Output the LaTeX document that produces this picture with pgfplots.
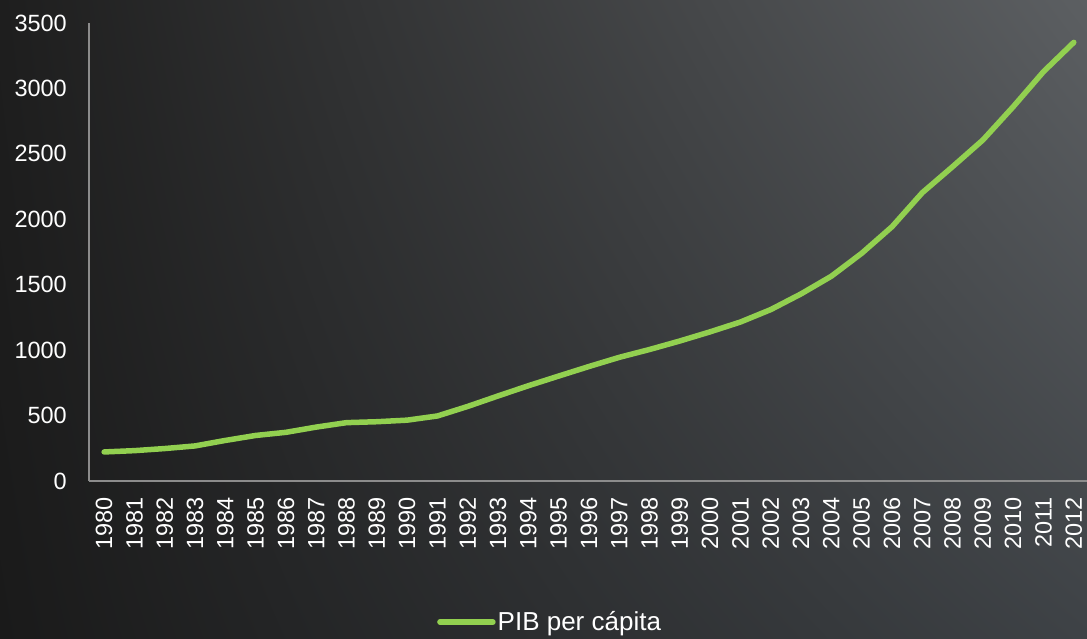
\documentclass[border=0pt]{standalone}
\usepackage{pgfplots}
\pgfplotsset{compat=1.18}
\usetikzlibrary{shadings}
\usepackage{fontspec}
\setmainfont{Liberation Sans}
\definecolor{pibgreen}{HTML}{92D050}
\definecolor{bgTL}{HTML}{1E1E1E}
\definecolor{bgTR}{HTML}{5C5F62}
\definecolor{bgBL}{HTML}{1A1A1A}
\definecolor{bgBR}{HTML}{3E4246}
\definecolor{axisgray}{HTML}{8C8C8C}
\pgfplotstableread{
year value
1980 222
1981 232
1982 248
1983 268
1984 310
1985 348
1986 372
1987 412
1988 446
1989 453
1990 465
1991 497
1992 570
1993 650
1994 728
1995 802
1996 875
1997 945
1998 1005
1999 1070
2000 1140
2001 1215
2002 1310
2003 1430
2004 1565
2005 1740
2006 1943
2007 2203
2008 2402
2009 2606
2010 2860
2011 3128
2012 3352
}\pibtable
\begin{document}
\begin{tikzpicture}
\shade[upper left=bgTL, upper right=bgTR, lower left=bgBL, lower right=bgBR] (0,0) rectangle (1087bp,639bp);
\useasboundingbox (0,0) rectangle (1087bp,639bp);
\begin{axis}[
  at={(89bp,158bp)}, anchor=south west,
  scale only axis, width=1000bp, height=458bp,
  xmin=1979.5, xmax=2012.5, ymin=0, ymax=3500,
  axis x line=bottom, axis y line=left,
  axis line style={-, draw=axisgray, line width=1.2bp},
  xtick={1980,...,2012}, ytick={0,500,...,3500},
  major tick length=0pt,
  tick label style={font=\fontsize{23.5bp}{28bp}\selectfont, text=white, inner sep=0pt},
  /pgf/number format/assume math mode=true,
  /pgf/number format/1000 sep={},
  x tick label style={rotate=90, anchor=east},
  y tick label style={anchor=east},
  xticklabel shift=16bp, yticklabel shift=22bp,
  legend style={at={(0.348,-0.3079)}, anchor=west, draw=none, fill=none,
    text=white, font=\fontsize{26bp}{30bp}\selectfont, inner sep=0pt,
    nodes={inner sep=2bp}},
  legend image code/.code={\draw[pibgreen, line width=5.5bp, line cap=round] (0bp,0bp) -- (53bp,0bp);},
]
\addplot[pibgreen, line width=5.5bp, line cap=round, line join=round] table[x=year, y=value] {\pibtable};
\addlegendentry{PIB per cápita}
\end{axis}
\end{tikzpicture}
\end{document}
